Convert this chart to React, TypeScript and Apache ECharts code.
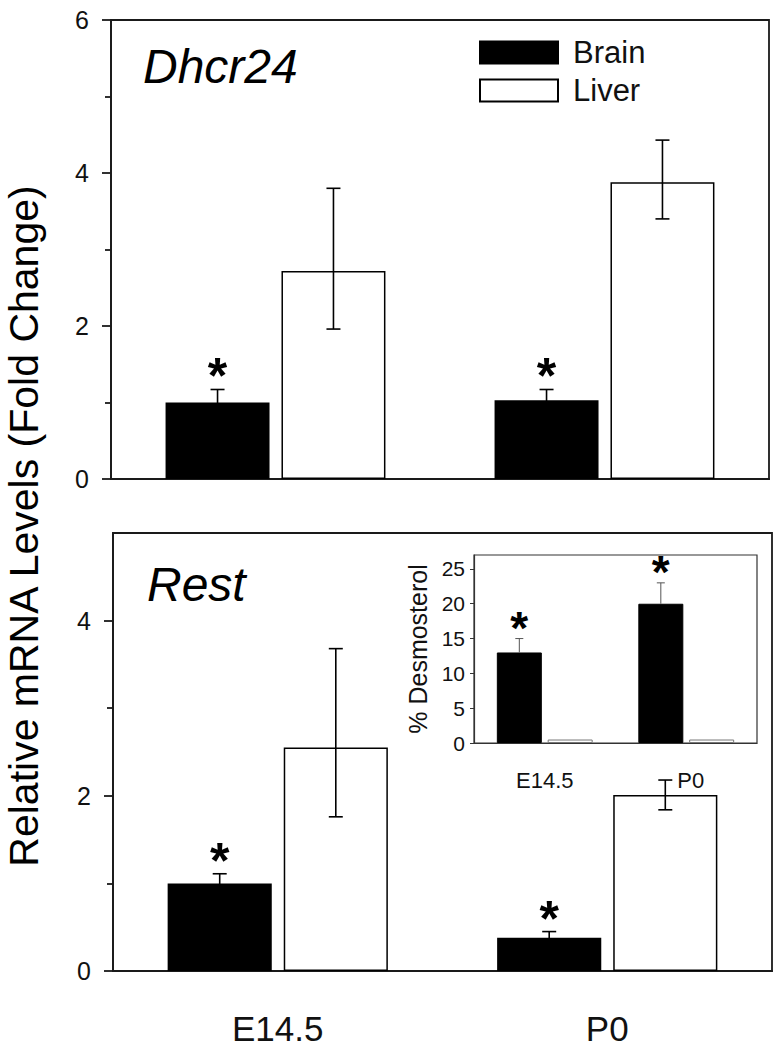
import React, { useEffect, useRef } from "react";
import * as echarts from "echarts";

const categories = ["E14.5", "P0"];

// Dhcr24 (top panel)
const dhcrBrain = [1.0, 1.03];
const dhcrBrainLo = [0.83, 0.89];
const dhcrBrainHi = [1.17, 1.17];
const dhcrLiver = [2.72, 3.88];
const dhcrLiverLo = [1.96, 3.4];
const dhcrLiverHi = [3.8, 4.43];

// Rest (bottom panel)
const restBrain = [1.0, 0.38];
const restBrainLo = [0.89, 0.31];
const restBrainHi = [1.11, 0.45];
const restLiver = [2.55, 2.01];
const restLiverLo = [1.76, 1.84];
const restLiverHi = [3.68, 2.18];

// Inset: % Desmosterol
const desmoBrain = [13, 20];
const desmoBrainHi = [15, 23];
const desmoLiver = [0.5, 0.5];

const topMajorTicks = [0, 2, 4, 6];
const topMinorTicks = [1, 3, 5];
const botMajorTicks = [0, 2, 4];
const botMinorTicks = [1, 3];
const insetTicks = [0, 5, 10, 15, 20, 25];

const FONT = "'Liberation Sans', Arial, Helvetica, sans-serif";
const MAIN_BAR = 0.316;
const MAIN_GAP = 0.115;
const INSET_BAR = 0.318;
const INSET_GAP = 0.13;

function errSeries(
  name: string,
  xi: number,
  yi: number,
  lo: number[],
  hi: number[],
  side: number,
  barFrac: number,
  gapFrac: number,
  cap: number,
  color: string,
  width: number,
  lowCap: boolean
) {
  return {
    type: "custom",
    name,
    xAxisIndex: xi,
    yAxisIndex: yi,
    encode: { x: 0, y: [1, 2] },
    silent: true,
    z: 5,
    data: lo.map((l, i) => [i, l, hi[i], side]),
    renderItem: (params: any, api: any) => {
      const ci = api.value(0);
      const l = api.value(1);
      const h = api.value(2);
      const s = api.value(3);
      const band = api.size([1, 0])[0];
      const bw = band * barFrac;
      const gap = bw * gapFrac;
      const cx = api.coord([ci, 0])[0] + (s * (bw + gap)) / 2;
      const yl = api.coord([ci, l])[1];
      const yh = api.coord([ci, h])[1];
      const st = { stroke: color, lineWidth: width };
      const children: any[] = [
        { type: "line", shape: { x1: cx, y1: yl, x2: cx, y2: yh }, style: st },
        { type: "line", shape: { x1: cx - cap, y1: yh, x2: cx + cap, y2: yh }, style: st },
      ];
      if (lowCap) {
        children.push({
          type: "line",
          shape: { x1: cx - cap, y1: yl, x2: cx + cap, y2: yl },
          style: st,
        });
      }
      return { type: "group", children };
    },
  };
}

function starSeries(
  xi: number,
  yi: number,
  hi: number[],
  side: number,
  barFrac: number,
  gapFrac: number,
  size: number,
  dist: number
) {
  return {
    type: "custom",
    name: "sig",
    xAxisIndex: xi,
    yAxisIndex: yi,
    encode: { x: 0, y: 1 },
    silent: true,
    z: 6,
    data: hi.map((h, i) => [i, h, side]),
    renderItem: (params: any, api: any) => {
      const ci = api.value(0);
      const h = api.value(1);
      const s = api.value(2);
      const band = api.size([1, 0])[0];
      const bw = band * barFrac;
      const gap = bw * gapFrac;
      const cx = api.coord([ci, 0])[0] + (s * (bw + gap)) / 2;
      const y = api.coord([ci, h])[1];
      return {
        type: "text",
        x: cx,
        y: y - dist,
        style: {
          text: "*",
          fontSize: size,
          fontWeight: "bold",
          fontFamily: FONT,
          fill: "#000",
          align: "center",
          verticalAlign: "middle",
        },
      };
    },
  };
}

export default function App() {
  const ref = useRef<HTMLDivElement>(null);

  useEffect(() => {
    if (!ref.current) return;
    const chart = echarts.init(ref.current, undefined, { renderer: "svg" });

    const axisLineStyle = { color: "#1a1a1a", width: 1.8 };
    const mainLabel = { fontSize: 25, color: "#111", fontFamily: FONT, margin: 22 };

    const option: any = {
      animation: false,
      backgroundColor: "#fff",
      legend: {
        data: ["Brain", "Liver"],
        orient: "vertical",
        left: 474,
        top: 32,
        icon: "rect",
        itemWidth: 78,
        itemHeight: 22,
        itemGap: 7,
        selectedMode: false,
        textStyle: { fontSize: 31, color: "#111", fontFamily: FONT, padding: [0, 0, 0, 10] },
      },
      grid: [
        {
          left: 111, top: 20, width: 658, height: 459,
          show: true, borderColor: "#1a1a1a", borderWidth: 1.8, backgroundColor: "transparent",
        },
        {
          left: 113, top: 533, width: 659, height: 438,
          show: true, borderColor: "#1a1a1a", borderWidth: 1.8, backgroundColor: "transparent",
        },
        {
          left: 474, top: 555, width: 283, height: 188,
          show: true, borderColor: "#333", borderWidth: 1.2, backgroundColor: "#fff",
        },
      ],
      xAxis: [
        {
          type: "category", gridIndex: 0, data: categories,
          axisLine: { lineStyle: axisLineStyle }, axisTick: { show: false },
          axisLabel: { show: false },
        },
        {
          type: "category", gridIndex: 1, data: categories,
          axisLine: { lineStyle: axisLineStyle }, axisTick: { show: false },
          axisLabel: { fontSize: 35, color: "#111", fontFamily: FONT, margin: 40 },
        },
        {
          type: "category", gridIndex: 2, data: categories,
          axisLine: { lineStyle: { color: "#333", width: 1.2 } }, axisTick: { show: false },
          axisLabel: {
            fontSize: 22, color: "#111", fontFamily: FONT, margin: 26,
            formatter: (v: string) => (v === "P0" ? "{p|" + v + "}" : v),
            rich: { p: { fontSize: 22, color: "#111", fontFamily: FONT, padding: [0, 0, 0, 9] } },
          },
        },
      ],
      yAxis: [
        {
          type: "value", gridIndex: 0, min: 0, max: 6,
          axisLine: { show: true, lineStyle: axisLineStyle },
          axisTick: { show: true, inside: false, length: 9, customValues: topMajorTicks, lineStyle: axisLineStyle },
          axisLabel: { ...mainLabel, customValues: topMajorTicks },
          splitLine: { show: false },
        },
        {
          type: "value", gridIndex: 0, min: 0, max: 6, position: "left",
          axisLine: { show: false },
          axisTick: { show: true, inside: false, length: 6, customValues: topMinorTicks, lineStyle: axisLineStyle },
          axisLabel: { show: false },
          splitLine: { show: false },
        },
        {
          type: "value", gridIndex: 1, min: 0, max: 5,
          axisLine: { show: true, lineStyle: axisLineStyle },
          axisTick: { show: true, inside: false, length: 9, customValues: botMajorTicks, lineStyle: axisLineStyle },
          axisLabel: { ...mainLabel, customValues: botMajorTicks },
          splitLine: { show: false },
        },
        {
          type: "value", gridIndex: 1, min: 0, max: 5, position: "left",
          axisLine: { show: false },
          axisTick: { show: true, inside: false, length: 6, customValues: botMinorTicks, lineStyle: axisLineStyle },
          axisLabel: { show: false },
          splitLine: { show: false },
        },
        {
          type: "value", gridIndex: 2, min: 0, max: 27,
          name: "% Desmosterol", nameLocation: "middle", nameGap: 44, nameRotate: 90,
          nameTextStyle: { fontSize: 25, color: "#111", fontFamily: FONT },
          axisLine: { show: true, lineStyle: { color: "#333", width: 1.2 } },
          axisTick: { show: true, inside: false, length: 4, customValues: insetTicks, lineStyle: { color: "#333" } },
          axisLabel: { fontSize: 21, color: "#111", fontFamily: FONT, margin: 9, customValues: insetTicks },
          splitLine: { show: false },
        },
      ],
      series: [
        // top panel
        {
          type: "bar", name: "Brain", xAxisIndex: 0, yAxisIndex: 0, data: dhcrBrain,
          barWidth: (MAIN_BAR * 100).toFixed(1) + "%", barGap: (MAIN_GAP * 100).toFixed(1) + "%",
          itemStyle: { color: "#000", borderColor: "#000", borderWidth: 1.5 },
        },
        {
          type: "bar", name: "Liver", xAxisIndex: 0, yAxisIndex: 0, data: dhcrLiver,
          barWidth: (MAIN_BAR * 100).toFixed(1) + "%", barGap: (MAIN_GAP * 100).toFixed(1) + "%",
          itemStyle: { color: "#fff", borderColor: "#000", borderWidth: 1.5 },
        },
        errSeries("errTopBrain", 0, 0, dhcrBrainLo, dhcrBrainHi, -1, MAIN_BAR, MAIN_GAP, 7, "#000", 1.6, true),
        errSeries("errTopLiver", 0, 0, dhcrLiverLo, dhcrLiverHi, 1, MAIN_BAR, MAIN_GAP, 7, "#000", 1.6, true),
        starSeries(0, 0, dhcrBrainHi, -1, MAIN_BAR, MAIN_GAP, 50, 13),
        // bottom panel
        {
          type: "bar", name: "Brain", xAxisIndex: 1, yAxisIndex: 2, data: restBrain,
          barWidth: (MAIN_BAR * 100).toFixed(1) + "%", barGap: (MAIN_GAP * 100).toFixed(1) + "%",
          itemStyle: { color: "#000", borderColor: "#000", borderWidth: 1.5 },
        },
        {
          type: "bar", name: "Liver", xAxisIndex: 1, yAxisIndex: 2, data: restLiver,
          barWidth: (MAIN_BAR * 100).toFixed(1) + "%", barGap: (MAIN_GAP * 100).toFixed(1) + "%",
          itemStyle: { color: "#fff", borderColor: "#000", borderWidth: 1.5 },
        },
        errSeries("errBotBrain", 1, 2, restBrainLo, restBrainHi, -1, MAIN_BAR, MAIN_GAP, 7, "#000", 1.6, true),
        errSeries("errBotLiver", 1, 2, restLiverLo, restLiverHi, 1, MAIN_BAR, MAIN_GAP, 7, "#000", 1.6, true),
        starSeries(1, 2, restBrainHi, -1, MAIN_BAR, MAIN_GAP, 50, 13),
        // inset
        {
          type: "bar", name: "Brain", xAxisIndex: 2, yAxisIndex: 4, data: desmoBrain,
          barWidth: (INSET_BAR * 100).toFixed(1) + "%", barGap: (INSET_GAP * 100).toFixed(1) + "%",
          itemStyle: { color: "#000", borderColor: "#000", borderWidth: 1 },
        },
        {
          type: "bar", name: "Liver", xAxisIndex: 2, yAxisIndex: 4, data: desmoLiver,
          barWidth: (INSET_BAR * 100).toFixed(1) + "%", barGap: (INSET_GAP * 100).toFixed(1) + "%",
          itemStyle: { color: "#fff", borderColor: "#777", borderWidth: 1 },
        },
        errSeries("errInset", 2, 4, desmoBrain, desmoBrainHi, -1, INSET_BAR, INSET_GAP, 4, "#555", 1, false),
        starSeries(2, 4, desmoBrainHi, -1, INSET_BAR, INSET_GAP, 46, 11),
      ],
      graphic: [
        {
          type: "text", left: 143, top: 42,
          style: { text: "Dhcr24", fontSize: 48, fontStyle: "italic", fontFamily: FONT, fill: "#000" },
        },
        {
          type: "text", left: 147, top: 560,
          style: { text: "Rest", fontSize: 48, fontStyle: "italic", fontFamily: FONT, fill: "#000" },
        },
        {
          type: "text", x: 24, y: 526, rotation: Math.PI / 2,
          style: {
            text: "Relative mRNA Levels (Fold Change)", fontSize: 41, fontFamily: FONT, fill: "#000",
            align: "center", verticalAlign: "middle",
          },
        },
      ],
    };

    chart.setOption(option);
    return () => chart.dispose();
  }, []);

  return (
    <div
      ref={ref}
      style={{ position: "absolute", left: 0, top: 0, width: 777, height: 1049, background: "#fff" }}
    />
  );
}
